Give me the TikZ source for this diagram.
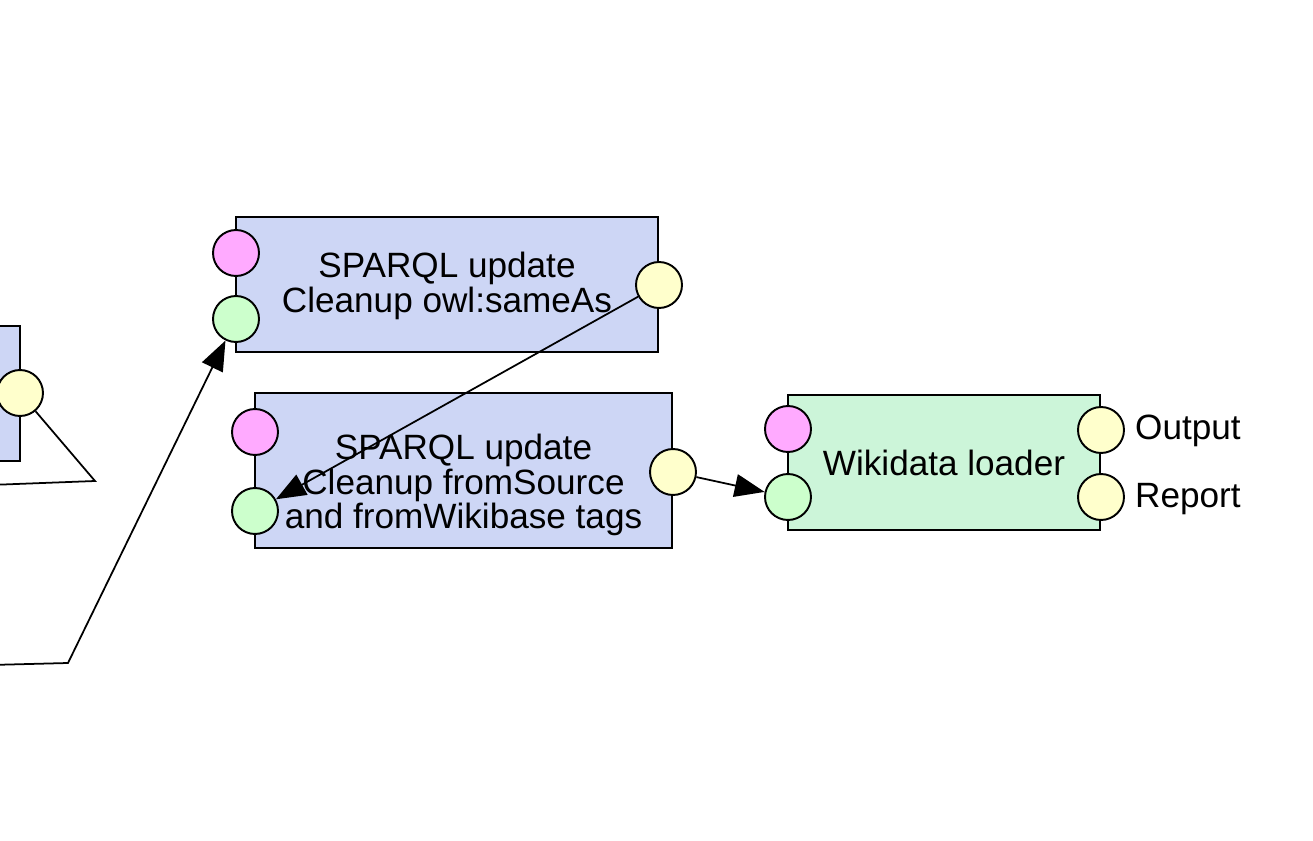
\documentclass[tikz,border=0pt]{standalone}
\usepackage{fontspec}
\setmainfont{Liberation Sans}
\usetikzlibrary{arrows.meta}

\definecolor{procblue}{HTML}{CDD6F5}
\definecolor{loadgreen}{HTML}{CCF5D9}
\definecolor{portpink}{HTML}{FFAAFF}
\definecolor{portgreen}{HTML}{CCFFCC}
\definecolor{portyellow}{HTML}{FFFFCC}

\tikzset{
	procbox/.style={draw, line width=1.1pt, fill=procblue, inner sep=0pt},
	port/.style={circle, draw, line width=1.1pt, minimum size=0.92cm, inner sep=0pt},
	inport/.style={port, fill=portgreen},
	ctrlport/.style={port, fill=portpink},
	outport/.style={port, fill=portyellow},
	wire/.style={line width=1pt, -{Triangle[length=17pt, width=13pt]}},
	boxtext/.style={font=\fontsize{20}{19.8}\selectfont, align=center}
}

\begin{document}
\begin{tikzpicture}[x=0.02cm, y=-0.02cm]
	\useasboundingbox (0,0) rectangle (1313,841);
	\clip (0,0) rectangle (1313,841);

	% box cut off at the left
	\draw [procbox] (-200,326) rectangle (20,461);
	\node [outport] (prevOut) at (20,393) {};

	\node [procbox, minimum width=8.44cm, minimum height=2.7cm] (sameAs) at (447,284.5) {};
	\node [boxtext] (sameAsText) at (447,286)
	{SPARQL update\\Cleanup owl:sameAs};
	\node [procbox, minimum width=8.34cm, minimum height=3.1cm] (tags) at (463.5,470.5) {};
	\node [boxtext] (tagsText) at (463.5,485)
	{SPARQL update\\Cleanup fromSource\\and fromWikibase tags};
	\node [procbox, boxtext, fill=loadgreen, minimum width=6.24cm, minimum height=2.7cm] (loader) at (944,462.5)
	{Wikidata loader};

	\node [ctrlport] (sameAsCtrl) at (236,253) {};
	\node [inport] (sameAsIn) at (236,319) {};
	\node [outport] (sameAsOut) at (659,285) {};
	\node [ctrlport] (tagsCtrl) at (255,432) {};
	\node [inport] (tagsIn) at (255,511) {};
	\node [outport] (tagsOut) at (673,472) {};
	\node [ctrlport] (loaderCtrl) at (788,429) {};
	\node [inport] (loaderIn) at (788,497) {};
	\node [outport] (loaderOut) at (1101,430) {};
	\node [outport] (loaderReport) at (1101,497) {};
	\node [boxtext, anchor=west] (outLabel) at (1129,431) {Output};
	\node [boxtext, anchor=west] (reportLabel) at (1129,499) {Report};

	\coordinate (bendA) at (95,481);
	\coordinate (exitA) at (-10,485);
	\coordinate (bendB) at (68,663);
	\coordinate (exitB) at (-10,665);
	\draw [line width=1pt] (prevOut) -- (bendA) -- (exitA);
	\draw [wire] (exitB) -- (bendB) -- (sameAsIn);
	\draw [wire] (sameAsOut) -- (tagsIn);
	\draw [wire] (tagsOut) -- (loaderIn);
\end{tikzpicture}
\end{document}
